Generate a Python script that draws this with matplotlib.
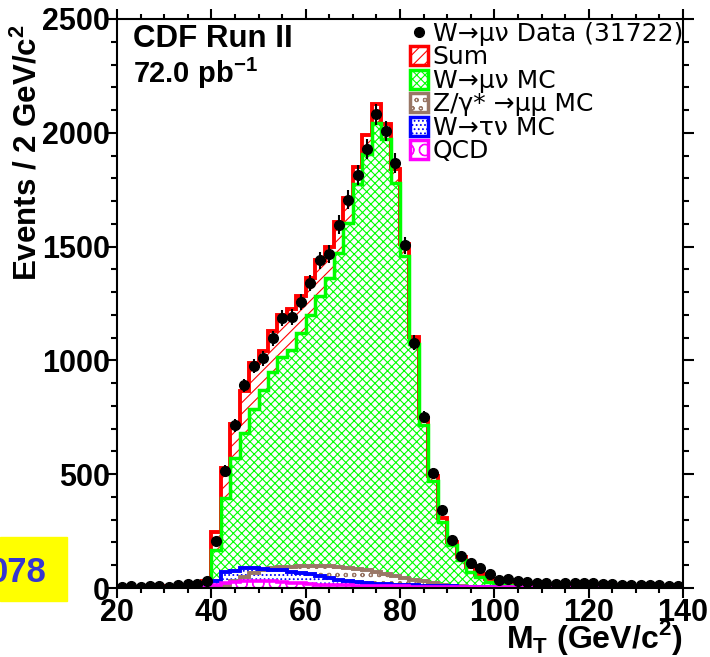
import numpy as np
import matplotlib.pyplot as plt
from matplotlib.patches import Patch, Rectangle
from matplotlib.lines import Line2D

plt.rcParams['font.family'] = ['Liberation Sans', 'DejaVu Sans']
plt.rcParams['mathtext.fontset'] = 'custom'
plt.rcParams['mathtext.rm'] = 'Liberation Sans'
plt.rcParams['mathtext.bf'] = 'Liberation Sans:bold'
plt.rcParams['hatch.linewidth'] = 0.8

# bins of 2 GeV/c^2 from 20 to 140
edges = np.arange(20, 142, 2)
centers = edges[:-1] + 1

data = [3, 8, 5, 8, 8, 5, 13, 16, 16, 32,
        207, 516, 714, 890, 977, 1009, 1098, 1185, 1191, 1258,
        1340, 1440, 1468, 1597, 1706, 1814, 1930, 2081, 2009, 1868,
        1505, 1077, 752, 505, 343, 213, 141, 111, 89, 61,
        35, 41, 31, 28, 20, 20, 18, 20, 20, 20,
        20, 18, 18, 14, 14, 14, 14, 12, 8, 8]

sum_mc = [3, 4, 5, 5, 6, 7, 9, 11, 14, 30,
          245, 527, 720, 864, 988, 1040, 1128, 1200, 1226, 1282,
          1362, 1443, 1499, 1607, 1714, 1850, 1990, 2125, 2040, 1843,
          1512, 1104, 746, 490, 309, 204, 135, 91, 60, 40,
          27, 19, 14, 11, 9, 8, 8, 7, 7, 7,
          6, 6, 6, 6, 6, 5, 5, 5, 5, 5]

wmunu_mc = [0, 1, 1, 1, 2, 2, 3, 4, 6, 15,
            168, 395, 571, 680, 786, 868, 949, 1015, 1047, 1120,
            1200, 1282, 1362, 1472, 1604, 1773, 1905, 2044, 1971, 1780,
            1458, 1070, 717, 468, 292, 189, 123, 72, 47, 28,
            18, 12, 8, 5, 3, 2, 2, 1, 1, 1,
            1, 1, 0, 0, 0, 0, 0, 0, 0, 0]

zmumu_mc = [0, 0, 0, 0, 0, 1, 1, 1, 2, 2,
            5, 15, 30, 48, 65, 80, 88, 92, 94, 95,
            96, 96, 95, 92, 88, 83, 77, 70, 62, 54,
            45, 37, 29, 21, 15, 10, 7, 5, 4, 3,
            2, 2, 1, 1, 1, 1, 1, 1, 0, 0,
            0, 0, 0, 0, 0, 0, 0, 0, 0, 0]

wtaunu_mc = [0, 0, 0, 0, 0, 1, 1, 2, 3, 8,
             32, 70, 76, 90, 90, 82, 80, 78, 70, 66,
             62, 52, 45, 34, 29, 25, 22, 19, 17, 15,
             13, 12, 10, 9, 8, 7, 5, 4, 3, 3,
             2, 2, 1, 1, 1, 1, 1, 0, 0, 0,
             0, 0, 0, 0, 0, 0, 0, 0, 0, 0]

qcd = [2, 2, 2, 2, 2, 2, 3, 3, 3, 6,
       12, 20, 26, 30, 32, 32, 30, 27, 24, 20,
       18, 15, 13, 12, 11, 10, 9, 8, 8, 7,
       7, 6, 6, 5, 5, 5, 5, 4, 4, 4,
       4, 4, 4, 4, 4, 3, 3, 3, 3, 3,
       3, 3, 3, 3, 3, 3, 3, 3, 3, 3]

labels = ["W\u2192\u03bc\u03bd Data (31722)", "Sum", "W\u2192\u03bc\u03bd MC",
          "Z/\u03b3* \u2192\u03bc\u03bc MC", "W\u2192\u03c4\u03bd MC", "QCD"]

hists = [(sum_mc, '#ff0000', '///', 2.8),
         (wmunu_mc, '#00ff00', 'xxxx', 2.5),
         (zmumu_mc, '#997766', 'oo', 2.8),
         (wtaunu_mc, '#0000ff', '....', 2.8),
         (qcd, '#ff00ff', 'O', 2.6)]

fig = plt.figure(figsize=(7.1, 6.57), dpi=100)
ax = fig.add_axes([117 / 710, 69 / 657, 566 / 710, 569 / 657])

# hatched fills first, outlines on top
for vals, col, hat, lw in hists:
    ax.stairs(vals, edges, fill=True, facecolor='white', edgecolor=col,
              hatch=hat, linewidth=0)
for vals, col, hat, lw in hists:
    ax.stairs(vals, edges, color=col, linewidth=lw)

ax.errorbar(centers, data, yerr=np.sqrt(data), fmt='o', color='black',
            ms=7, elinewidth=1.5, capsize=0, zorder=10)

ax.set_xlim(20, 140)
ax.set_ylim(0, 2500)
ax.set_xticks(np.arange(20, 141, 20))
ax.set_xticks(np.arange(20, 141, 5), minor=True)
ax.set_yticks(np.arange(0, 2501, 500))
ax.set_yticks(np.arange(0, 2501, 100), minor=True)
for lab in ax.get_xticklabels() + ax.get_yticklabels():
    lab.set_fontweight('bold')
    lab.set_fontsize(22)
ax.tick_params(which='both', direction='out', top=True, right=True, width=1.5)
ax.tick_params(axis='x', which='major', length=7, pad=0)
ax.tick_params(axis='x', which='minor', length=3.5)
ax.tick_params(axis='y', which='major', length=8, pad=-3)
ax.tick_params(axis='y', which='minor', length=4)
for sp in ax.spines.values():
    sp.set_linewidth(1.5)

ax.set_ylabel("Events / 2 GeV/c$^{\\mathbf{2}}$", fontsize=22.5, fontweight='bold',
              loc='top')
ax.yaxis.set_label_coords(-0.13, 0.99)
ax.set_xlabel("M$_{\\mathbf{T}}$ (GeV/c$^{\\mathbf{2}}$)", fontsize=23,
              fontweight='bold', loc='right')
ax.xaxis.set_label_coords(1.0, -0.052)

ax.text(0.028, 0.951, "CDF Run II", transform=ax.transAxes, fontsize=22.5,
        fontweight='bold', va='baseline')
ax.text(0.028, 0.8875, "72.0 pb$^{\\mathbf{-1}}$", transform=ax.transAxes,
        fontsize=21, fontweight='bold', va='baseline')

handles = [Line2D([], [], marker='o', color='black', ls='none', ms=7)]
for vals, col, hat, lw in hists:
    handles.append(Patch(facecolor='white', edgecolor=col, hatch=hat, lw=2.5))
ax.legend(handles, labels, loc='upper right', bbox_to_anchor=(1.0, 0.995),
          frameon=False, prop={'family': 'DejaVu Sans', 'size': 18},
          handlelength=0.7, handleheight=0.8, handletextpad=0.2,
          labelspacing=-0.02, borderpad=0, borderaxespad=0)

# yellow page tag at the left edge
fig.patches.append(Rectangle((0, 56 / 657), 67 / 710, 64 / 657,
                             transform=fig.transFigure, color='#ffff00'))
fig.text(47 / 710, 75 / 657, "078", ha='right', va='baseline', fontsize=25,
         fontweight='bold', color='#3636d0')

fig.savefig('out.png', dpi=100)
